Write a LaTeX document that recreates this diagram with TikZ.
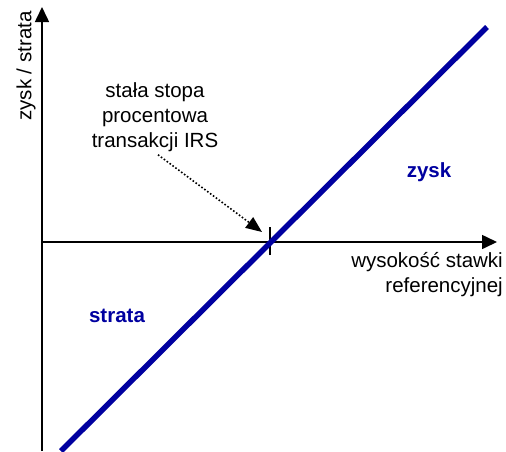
\documentclass[tikz,border=0pt]{standalone}
\usepackage{fontspec}
\setmainfont{Liberation Sans}
\usetikzlibrary{arrows.meta}
\definecolor{profitblue}{RGB}{0,0,160}
\begin{document}
\begin{tikzpicture}[x=1pt,y=-1pt,
  axis/.style={line width=1.6pt,-{Triangle[length=15pt,width=14pt]}},
  txt/.style={font=\fontsize{20.5}{25}\selectfont,inner sep=0pt},
  region/.style={txt,font=\fontsize{20.5}{25}\selectfont\bfseries,text=profitblue}]
  \useasboundingbox (0,0) rectangle (506,451);
  % axes
  \coordinate (ybot) at (42,451);
  \coordinate (ytop) at (42,7);
  \coordinate (xleft) at (42,242);
  \coordinate (xright) at (497,242);
  \draw[axis] (ybot) -- (ytop);
  \draw[axis] (xleft) -- (xright);
  % fixed rate mark on the horizontal axis
  \coordinate (fix) at (270,242);
  \draw[line width=1.6pt] ([yshift=-13pt]fix) -- ([yshift=15pt]fix);
  % payoff line
  \coordinate (lineA) at (61,451);
  \coordinate (lineB) at (487,27);
  \draw[profitblue,line width=5.5pt] (lineA) -- (lineB);
  % labels
  \node[txt,rotate=90] (ylab) at (26,66) {zysk / strata};
  \node[txt,align=center] (rate) at (155,117) {stała stopa\\procentowa\\transakcji IRS};
  \node[txt,align=right,anchor=north east] (xlab) at (503,252) {wysokość stawki\\referencyjnej};
  \node[region] (gain) at (429,172) {zysk};
  \node[region] (loss) at (117,316) {strata};
  % pointer to the fixed rate
  \coordinate (ptip) at (262,232);
  \draw[dotted,line width=1.6pt,-{Triangle[length=16pt,width=13pt]}] ([xshift=3pt,yshift=-3pt]rate.south) -- (ptip);
\end{tikzpicture}
\end{document}
